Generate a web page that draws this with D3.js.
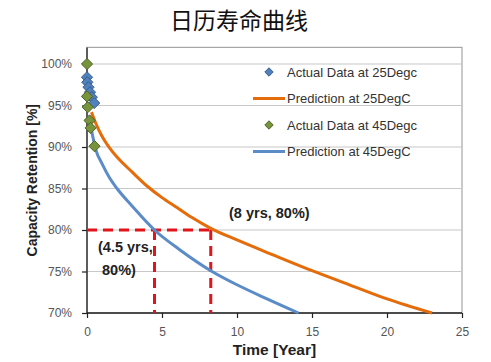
<!DOCTYPE html>
<html><head><meta charset="utf-8">
<script src="https://cdn.jsdelivr.net/npm/d3@7"></script>
<style>
html,body{margin:0;padding:0;background:#fff;}
svg{display:block;}
</style></head>
<body>
<svg id="c" width="491" height="362"></svg>
<script>
// ---- data ----
const title = "日历寿命曲线";
const xTicks = [0, 5, 10, 15, 20, 25];
const yTicks = [70, 75, 80, 85, 90, 95, 100];
const actual25Years = [0.0, 0.02, 0.1, 0.2, 0.32, 0.48];
const actual25Values = [98.4, 97.8, 97.2, 96.6, 96.0, 95.3];
const actual45Years = [0.0, 0.0, 0.05, 0.17, 0.24, 0.5];
const actual45Values = [100.0, 96.1, 94.8, 93.2, 92.3, 90.1];
const pred25Years = [0.3, 0.6, 1.0, 1.5, 2.0, 3.0, 4.0, 5.0, 6.0, 7.0, 8.25, 10, 12.4, 15, 17.5, 20, 23];
const pred25Values = [94.2, 92.8, 91.3, 89.9, 88.8, 87.0, 85.3, 83.9, 82.7, 81.5, 80.2, 78.8, 77.0, 75.1, 73.4, 71.7, 70.0];
const pred45Years = [0.3, 0.6, 1.0, 1.5, 2.0, 3.0, 4.5, 6.2, 8.25, 10, 12, 14.1];
const pred45Values = [92.0, 89.6, 88.0, 86.3, 85.0, 82.9, 80.0, 77.6, 75.1, 73.4, 71.7, 70.0];
const marks = [{x: 4.5, y: 80, label: ["(4.5 yrs,", "80%)"]}, {x: 8.25, y: 80, label: ["(8 yrs, 80%)"]}];
const legendItems = [
  {type: "diamond", color: "#4F81BD", stroke: "#385D8A", text: "Actual Data at 25Degc"},
  {type: "line", color: "#E46C0A", text: "Prediction at 25DegC"},
  {type: "diamond", color: "#77933C", stroke: "#4F6228", text: "Actual Data at 45Degc"},
  {type: "line", color: "#5B8CC8", text: "Prediction at 45DegC"}
];

// ---- chart ----
const svg = d3.select("#c");
const x = d3.scaleLinear().domain([0, 25]).range([87, 462]);
const y = d3.scaleLinear().domain([70, 100]).range([313, 64]);
const font = "Liberation Sans, Arial, sans-serif";

svg.append("text").attr("x", 239).attr("y", 29).attr("text-anchor", "middle")
  .style("font-family", "'Noto Sans CJK SC', sans-serif").style("font-size", "23px").attr("fill", "#111")
  .text(title);

// plot border
svg.append("rect").attr("x", x(0)).attr("y", y(102)).attr("width", x(25) - x(0)).attr("height", y(70) - y(102))
  .attr("fill", "none").attr("stroke", "#A6A6A6").attr("stroke-width", 1.2);

// gridlines
svg.append("g").selectAll("line").data(yTicks.filter(d => d > 70)).join("line")
  .attr("x1", x(0)).attr("x2", x(25)).attr("y1", d => y(d)).attr("y2", d => y(d))
  .attr("stroke", "#C8C8C8").attr("stroke-width", 1.2);

// axes
const yAxis = svg.append("g").attr("transform", `translate(${x(0)},0)`)
  .call(d3.axisLeft(y).tickValues(yTicks).tickFormat(d => d + "%").tickSize(5).tickPadding(10));
const xAxis = svg.append("g").attr("transform", `translate(0,${y(70)})`)
  .call(d3.axisBottom(x).tickValues(xTicks).tickSize(5).tickPadding(9));
[yAxis, xAxis].forEach(g => {
  g.select(".domain").remove();
  g.selectAll(".tick line").attr("stroke", "#222").attr("stroke-width", 1.2);
  g.selectAll("text").style("font-family", font).style("font-size", "12px").attr("fill", "#555");
});
svg.append("line").attr("x1", x(0)).attr("x2", x(0)).attr("y1", y(102)).attr("y2", y(70)).attr("stroke", "#222").attr("stroke-width", 1.3);
svg.append("line").attr("x1", x(0)).attr("x2", x(25)).attr("y1", y(70)).attr("y2", y(70)).attr("stroke", "#222").attr("stroke-width", 1.3);

// axis titles
svg.append("text").attr("x", (x(0) + x(25)) / 2).attr("y", 355).attr("text-anchor", "middle")
  .style("font-family", font).style("font-size", "15.5px").style("font-weight", "bold").attr("fill", "#222")
  .text("Time [Year]");
svg.append("text").attr("transform", `translate(37,${(y(102) + y(70)) / 2}) rotate(-90)`).attr("text-anchor", "middle")
  .style("font-family", font).style("font-size", "14px").style("font-weight", "bold").attr("fill", "#222")
  .text("Capacity Retention [%]");

// red dashed reference lines
const red = "#E3131B";
const refG = svg.append("g").attr("stroke", red).attr("stroke-width", 3).attr("stroke-dasharray", "10,6").attr("fill", "none");
refG.append("line").attr("x1", x(0)).attr("x2", x(d3.max(marks, m => m.x))).attr("y1", y(80)).attr("y2", y(80));
marks.forEach(m => {
  refG.append("line").attr("x1", x(m.x)).attr("x2", x(m.x)).attr("y1", y(m.y)).attr("y2", y(70));
});

// prediction lines
const line = d3.line().x(d => x(d[0])).y(d => y(d[1])).curve(d3.curveMonotoneX);
svg.append("path").datum(d3.zip(pred25Years, pred25Values)).attr("d", line)
  .attr("fill", "none").attr("stroke", legendItems[1].color).attr("stroke-width", 3);
svg.append("path").datum(d3.zip(pred45Years, pred45Values)).attr("d", line)
  .attr("fill", "none").attr("stroke", legendItems[3].color).attr("stroke-width", 3);

// diamonds
const diamond = d3.symbol().type(d3.symbolDiamond2).size(80);
function drawPoints(xs, vs, item) {
  svg.append("g").selectAll("path").data(d3.zip(xs, vs)).join("path")
    .attr("d", diamond).attr("transform", d => `translate(${x(d[0])},${y(d[1])})`)
    .attr("fill", item.color).attr("stroke", item.stroke).attr("stroke-width", 1);
}
drawPoints(actual25Years, actual25Values, legendItems[0]);
drawPoints(actual45Years, actual45Values, legendItems[2]);

// annotations
const annoStyle = s => s.style("font-family", font).style("font-size", "14.5px").style("font-weight", "bold").attr("fill", "#222");
svg.append("text").attr("x", 98).attr("y", 252).call(annoStyle).text(marks[0].label[0]);
svg.append("text").attr("x", 102).attr("y", 275).call(annoStyle).text(marks[0].label[1]);
svg.append("text").attr("x", 229).attr("y", 218).call(annoStyle).text(marks[1].label[0]);

// legend
const lg = svg.append("g");
legendItems.forEach((it, i) => {
  const cy = 72 + i * 26.5;
  if (it.type === "diamond") {
    lg.append("path").attr("d", d3.symbol().type(d3.symbolDiamond2).size(45)).attr("transform", `translate(269,${cy})`)
      .attr("fill", it.color).attr("stroke", it.stroke).attr("stroke-width", 1);
  } else {
    lg.append("line").attr("x1", 253).attr("x2", 285).attr("y1", cy).attr("y2", cy).attr("stroke", it.color).attr("stroke-width", 3);
  }
  lg.append("text").attr("x", 287).attr("y", cy + 4.5).style("font-family", font).style("font-size", "13px").attr("fill", "#333").text(it.text);
});
</script>
</body></html>
